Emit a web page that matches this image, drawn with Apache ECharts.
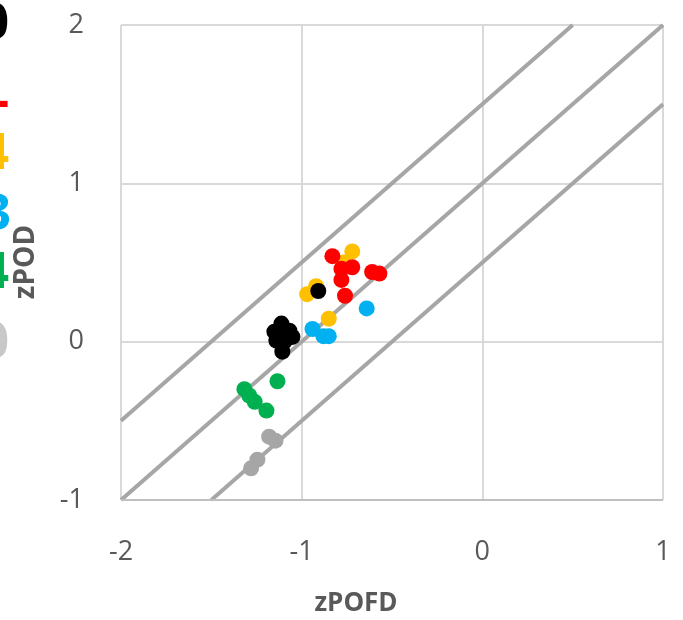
<!DOCTYPE html>
<html>
<head>
<meta charset="utf-8">
<script src="https://cdn.jsdelivr.net/npm/echarts@6/dist/echarts.min.js"></script>
<style>
  html, body { margin: 0; padding: 0; background: #fff; }
  #chart { width: 683px; height: 620px; }
</style>
</head>
<body>
<div id="chart"></div>
<script>
// Axis ticks
const xTicks = [-2, -1, 0, 1];
const yTicks = [-1, 0, 1, 2];

// Reference diagonals zPOD = zPOFD + offset
const diagonalOffsets = [0.5, 1.0, 1.5];

// Point groups: zPOFD (x) and zPOD (y)
const grayX = [-1.18, -1.145, -1.245, -1.28];
const grayY = [-0.60, -0.625, -0.745, -0.80];

const greenX = [-1.134, -1.317, -1.29, -1.26, -1.195];
const greenY = [-0.25, -0.30, -0.34, -0.38, -0.435];

const blueX = [-0.94, -0.88, -0.85, -0.64];
const blueY = [0.08, 0.035, 0.035, 0.21];

const yellowX = [-0.72, -0.77, -0.97, -0.92, -0.85];
const yellowY = [0.57, 0.50, 0.30, 0.35, 0.145];

const blackX = [-0.908, -1.112, -1.068, -1.151, -1.14, -1.096, -1.051, -1.107];
const blackY = [0.32, 0.114, 0.069, 0.063, 0.006, 0.0, 0.03, -0.063];

const redX = [-0.83, -0.78, -0.72, -0.78, -0.76, -0.61, -0.57];
const redY = [0.54, 0.46, 0.47, 0.39, 0.29, 0.44, 0.43];

const groups = [
  { name: 'G6', x: grayX, y: grayY, color: '#a6a6a6' },
  { name: 'G5', x: greenX, y: greenY, color: '#00b050' },
  { name: 'G4', x: blueX, y: blueY, color: '#00b0f0' },
  { name: 'G3', x: yellowX, y: yellowY, color: '#ffc000' },
  { name: 'G2', x: blackX, y: blackY, color: '#000000' },
  { name: 'G1', x: redX, y: redY, color: '#ff0000' }
];

const xMin = xTicks[0], xMax = xTicks[xTicks.length - 1];
const yMin = yTicks[0], yMax = yTicks[yTicks.length - 1];

// Clip each diagonal to the plotting box
function diagonal(off) {
  const x0 = Math.max(xMin, yMin - off);
  const x1 = Math.min(xMax, yMax - off);
  return [[x0, x0 + off], [x1, x1 + off]];
}

const font = '"Open Sans", "Liberation Sans", sans-serif';
const labelColor = '#595959';

const series = [];
diagonalOffsets.forEach(function (off) {
  series.push({
    type: 'line',
    data: diagonal(off),
    symbol: 'none',
    silent: true,
    z: 1,
    lineStyle: { color: '#a6a6a6', width: 4 }
  });
});
groups.forEach(function (g) {
  series.push({
    type: 'scatter',
    name: g.name,
    data: g.x.map(function (v, i) { return [v, g.y[i]]; }),
    symbol: 'circle',
    symbolSize: 16,
    z: 3,
    itemStyle: { color: g.color, opacity: 1 }
  });
});

// Tail ends of the key text running off the left edge
const edgeText = [
  { t: '0', x: 9, y: 25, c: '#000000' },
  { t: '-', x: 9, y: 103, c: '#ff0000' },
  { t: '4', x: 9, y: 155, c: '#ffc000' },
  { t: '3', x: 11, y: 216, c: '#00b0f0' },
  { t: '4', x: 9, y: 274, c: '#00b050' },
  { t: '0', x: 9, y: 344, c: '#c8c8c8' }
];

const chart = echarts.init(document.getElementById('chart'), null, { renderer: 'canvas' });
chart.setOption({
  animation: false,
  backgroundColor: '#ffffff',
  grid: { left: 121, right: 20, top: 25, bottom: 120, containLabel: false },
  xAxis: {
    type: 'value',
    min: xMin, max: xMax, interval: 1,
    axisLine: { show: true, lineStyle: { color: '#d9d9d9', width: 2 } },
    axisTick: { show: false },
    axisLabel: { color: labelColor, fontSize: 27, fontFamily: font, margin: 39 },
    splitLine: { show: true, lineStyle: { color: '#d9d9d9', width: 2 } }
  },
  yAxis: {
    type: 'value',
    min: yMin, max: yMax, interval: 1,
    axisLine: { show: true, lineStyle: { color: '#d9d9d9', width: 2 } },
    axisTick: { show: false },
    axisLabel: { color: labelColor, fontSize: 27, fontFamily: font, margin: 37 },
    splitLine: { show: true, lineStyle: { color: '#d9d9d9', width: 2 } }
  },
  series: series,
  graphic: [
    {
      type: 'line', z: 2,
      shape: { x1: 121, y1: 500, x2: 663, y2: 500 },
      style: { stroke: '#bfbfbf', lineWidth: 2 }
    },
    {
      type: 'text', x: 356, y: 604,
      style: {
        text: 'zPOFD', x: 0, y: 0, textAlign: 'center', textVerticalAlign: 'middle',
        fontSize: 26, fontWeight: 'bold', fontFamily: font, fill: labelColor
      }
    },
    {
      type: 'text', x: 26, y: 262, rotation: Math.PI / 2,
      style: {
        text: 'zPOD', x: 0, y: 0, textAlign: 'center', textVerticalAlign: 'middle',
        fontSize: 28, fontWeight: 'bold', fontFamily: font, fill: labelColor
      }
    }
  ].concat(edgeText.map(function (e) {
    return {
      type: 'text',
      style: {
        text: e.t, x: e.x, y: e.y, textAlign: 'right', textVerticalAlign: 'middle',
        fontSize: 50, fontWeight: 'bold', fontFamily: font, fill: e.c
      }
    };
  }))
});
</script>
</body>
</html>
